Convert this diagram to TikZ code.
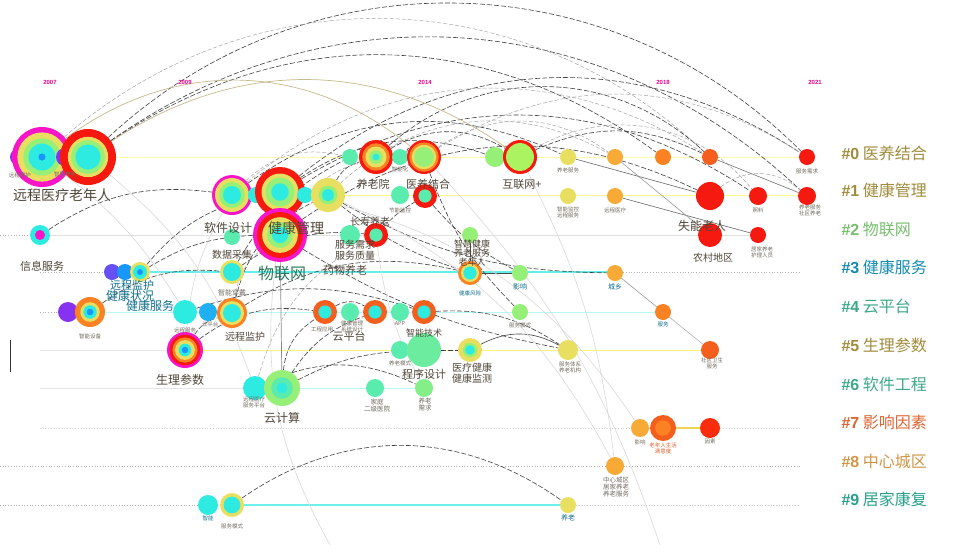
\documentclass[tikz,border=0pt]{standalone}
\usepackage{fontspec}
\setmainfont{Noto Sans CJK SC}
\newfontfamily\latinfont{Liberation Sans}
\pgfdeclarelayer{bgw}
\pgfdeclarelayer{bg}
\pgfsetlayers{bgw,bg,main}
\definecolor{cmag}{RGB}{250,20,200}
\definecolor{cred}{RGB}{245,25,15}
\definecolor{corg}{RGB}{250,130,35}
\definecolor{cyel}{RGB}{232,222,95}
\definecolor{cgrn}{RGB}{150,240,120}
\definecolor{ccyn}{RGB}{45,235,225}
\definecolor{cblu}{RGB}{25,150,250}
\definecolor{cpur}{RGB}{135,50,240}
\definecolor{clor}{RGB}{248,170,55}
\definecolor{cror}{RGB}{245,95,30}
\definecolor{cmint}{RGB}{90,235,175}
\definecolor{lg0}{RGB}{160,140,60}
\definecolor{lg2}{RGB}{120,190,110}
\definecolor{lg3}{RGB}{20,140,175}
\definecolor{lg4}{RGB}{60,170,130}
\definecolor{lg7}{RGB}{220,100,50}
\definecolor{lg8}{RGB}{210,150,70}
\definecolor{lg9}{RGB}{40,160,140}
\definecolor{labc}{RGB}{80,70,55}
\newcommand\rnode[5]{%
  \foreach \cc/\ff in {#5} {\fill[\cc] (#2,#3) circle[radius={#4*\ff*1pt}];}
  \node[circle,inner sep=0pt,minimum size=#4*2pt] (#1) at (#2,#3) {};}
\tikzset{
  arc/.style={draw=black!75,dash pattern=on 5pt off 2pt,line width=0.6pt},
  garc/.style={draw=black!35,dash pattern=on 4pt off 2pt,line width=0.5pt},
  larc/.style={draw=black!15,line width=0.6pt},
  oarc/.style={draw=lg0!60,line width=0.7pt},
  big/.style={text=labc,font=\fontsize{14}{14}\selectfont},
  mid/.style={text=labc,font=\fontsize{10}{10}\selectfont,align=center},
  tiny/.style={text=labc!80,font=\fontsize{5.5}{6}\selectfont,align=center},
  teal/.style={text=lg3!80!black},
  yr/.style={text=magenta,font=\latinfont\bfseries\fontsize{6}{6}\selectfont},
  leg/.style={anchor=west,font=\fontsize{16}{16}\selectfont},
  rowl/.style={line width=1pt},
  dotl/.style={draw=black!30,dotted,line width=0.7pt}
}
\begin{document}
\begin{tikzpicture}[x=1pt,y=-1pt]
\path[use as bounding box] (0,0) rectangle (964,555);
\begin{pgfonlayer}{bgw}
\fill[white] (0,0) rectangle (964,555);
\end{pgfonlayer}
% year labels
\node[yr] (y1) at (50,82) {2007};
\node[yr] (y2) at (185,82) {2009};
\node[yr] (y3) at (425,82) {2014};
\node[yr] (y4) at (663,82) {2018};
\node[yr] (y5) at (815,82) {2021};
% ---------------- nodes ----------------
% row 0
\rnode{n0a}{18}{157}{8}{cpur/1}
\rnode{n0b}{42}{157}{30}{cmag/1,cyel/0.82,cgrn/0.62,ccyn/0.45,cblu/0.12}
\rnode{n0c}{65}{157}{9}{cpur/1}
\rnode{n0d}{88}{157}{28}{cred/1,cyel/0.72,cgrn/0.6,ccyn/0.45}
\rnode{n0e}{350}{157}{8}{cmint/1}
\rnode{n0f}{376}{157}{17}{cred/1,corg/0.8,cyel/0.62,cgrn/0.4,ccyn/0.2}
\rnode{n0g}{400}{157}{8}{cmint/1}
\rnode{n0h}{424}{157}{17}{cred/1,corg/0.86,cyel/0.72,cgrn/0.58}
\rnode{n0i}{495}{157}{10}{cgrn/1}
\rnode{n0j}{520}{157}{17}{cred/1,cgrn!80!yellow/0.82}
\rnode{n0k}{568}{157}{8}{cyel/1}
\rnode{n0l}{615}{157}{8}{clor/1}
\rnode{n0m}{663}{157}{8}{corg/1}
\rnode{n0n}{710}{157}{8}{cror/1}
\rnode{n0o}{807}{157}{8}{cred/1}
% row 1
\rnode{n1a}{232}{195}{20}{cmag/1,cyel/0.85,cgrn/0.65,ccyn/0.45}
\rnode{n1b}{256}{195}{8}{ccyn/1}
\rnode{n1c}{280}{192}{25}{cred/1,cyel/0.74,cgrn/0.58,ccyn/0.35}
\rnode{n1d}{305}{195}{8}{ccyn/1}
\rnode{n1e}{328}{195}{17}{cyel/1,cgrn/0.55,ccyn/0.35}
\rnode{n1f}{400}{195}{9}{cmint/1}
\rnode{n1g}{425}{196}{12}{cred/1,cmint/0.55}
\rnode{n1h}{568}{196}{8}{cyel/1}
\rnode{n1i}{615}{196}{8}{clor/1}
\rnode{n1j}{710}{196}{14}{cred/1}
\rnode{n1k}{758}{196}{9}{cred/1}
\rnode{n1l}{807}{196}{9}{cred/1}
% row 2
\rnode{n2a}{40}{235}{10}{ccyn/1,cmag/0.5}
\rnode{n2b}{232}{237}{8}{cmint/1}
\rnode{n2c}{280}{235}{27}{cmag/1,cred/0.85,cyel/0.66,cgrn/0.48,ccyn/0.3}
\rnode{n2d}{350}{235}{10}{cmint/1}
\rnode{n2e}{376}{235}{12}{cred/1,cmint/0.55}
\rnode{n2f}{470}{235}{8}{cgrn/1}
\rnode{n2g}{710}{235}{12}{cred/1}
\rnode{n2h}{758}{235}{8}{cred/1}
% row 3
\rnode{n3a}{112}{272}{8}{cpur!70!cblu/1}
\rnode{n3b}{125}{272}{8}{cblu/1}
\rnode{n3c}{140}{272}{10}{cyel/1,ccyn/0.7,cblu/0.3}
\rnode{n3d}{232}{272}{12}{cyel/1,ccyn/0.75}
\rnode{n3e}{470}{273}{12}{corg/1,cyel/0.75,ccyn/0.55}
\rnode{n3f}{520}{273}{8}{cgrn/1}
\rnode{n3g}{615}{273}{8}{clor/1}
% row 4
\rnode{n4a}{68}{312}{10}{cpur/1}
\rnode{n4b}{90}{312}{15}{corg/1,cyel/0.65,ccyn/0.45,cblu/0.22}
\rnode{n4c}{185}{312}{12}{ccyn/1}
\rnode{n4d}{208}{312}{9}{cblu!70!ccyn/1}
\rnode{n4e}{232}{313}{15}{corg/1,cyel/0.8,ccyn/0.6}
\rnode{n4f}{325}{312}{12}{cror/1,ccyn/0.55}
\rnode{n4g}{350}{312}{9}{cmint/1}
\rnode{n4h}{375}{312}{12}{cror/1,ccyn/0.55}
\rnode{n4i}{400}{312}{9}{cmint/1}
\rnode{n4j}{424}{312}{12}{cror/1,ccyn/0.55}
\rnode{n4k}{520}{312}{8}{cgrn/1}
\rnode{n4l}{663}{312}{8}{corg/1}
% row 5
\rnode{n5a}{185}{350}{18}{cmag/1,cred/0.85,corg/0.7,cyel/0.55,ccyn/0.35,cblu/0.18}
\rnode{n5b}{400}{350}{9}{cmint/1}
\rnode{n5c}{424}{350}{17}{cmint!70!cgrn/1}
\rnode{n5d}{470}{350}{12}{cyel/1,cgrn/0.6,ccyn/0.4}
\rnode{n5e}{568}{350}{10}{cyel/1}
\rnode{n5f}{710}{350}{9}{cror/1}
% row 6
\rnode{n6a}{255}{388}{12}{ccyn/1}
\rnode{n6b}{282}{388}{18}{cgrn/1,cmint/0.6,ccyn/0.3}
\rnode{n6c}{375}{388}{9}{cmint/1}
\rnode{n6d}{424}{388}{9}{cgrn!70!cmint/1}
% row 7
\rnode{n7a}{640}{428}{9}{clor/1}
\rnode{n7b}{663}{428}{13}{cror/1,corg/0.6}
\rnode{n7c}{710}{428}{10}{cred!80!orange/1}
% row 8
\rnode{n8a}{615}{466}{9}{clor/1}
% row 9
\rnode{n9a}{208}{505}{10}{ccyn/1}
\rnode{n9b}{232}{505}{12}{cyel/1,ccyn/0.7}
\rnode{n9c}{568}{505}{8}{cyel/1}
% ---------------- row lines and connectors (behind nodes) ----------------
\begin{pgfonlayer}{bg}
\draw[rowl,yellow!35] (18,157) -- (807,157);
\draw[rowl,yellow!45] (232,195) -- (807,195);
\draw[dotl] (0,235) -- (40,235);
\draw[rowl,black!12] (40,235) -- (758,235);
\draw[dotl] (40,272) -- (112,272);
\draw[line width=1.8pt,ccyn!75] (140,272) -- (615,272);
\draw[dotl] (615,272) -- (800,272);
\draw[dotl] (40,312) -- (68,312);
\draw[rowl,ccyn!35] (68,312) -- (663,312);
\draw[rowl,black!10] (40,350) -- (185,350);
\draw[rowl,yellow!55] (185,350) -- (710,350);
\draw[rowl,black!10] (40,388) -- (255,388);
\draw[rowl,ccyn!35] (255,388) -- (424,388);
\draw[dotl,black!18] (40,428) -- (800,428);
\draw[dotl] (0,466) -- (800,466);
\draw[dotl] (0,505) -- (208,505);
\draw[line width=1.3pt,ccyn!70] (232,505) -- (568,505);
\draw[dotl,black!20] (568,505) -- (800,505);
\draw[black!80,line width=0.8pt] (10,340) -- (10,372);
% long top arcs
\draw[arc] (n0d) to[bend left=44] (n0o);
\draw[arc] (n0d) to[bend left=39] (n1l);
\draw[garc] (n0b) to[bend left=42] (n0n);
\draw[arc] (n0d) to[bend left=35] (n0m);
\draw[arc] (n1c) to[bend left=36] (n0o);
\draw[garc] (n1a) to[bend left=36] (n0n);
\draw[arc] (n1c) to[bend left=32] (n1k);
\draw[arc] (n2c) to[bend left=30] (n1j);
\draw[garc] (n1e) to[bend left=36] (n0l);
\draw[arc] (n0f) to[bend left=42] (n0n);
\draw[garc] (n0h) to[bend left=32] (n0o);
\draw[garc] (n0j) to[bend left=40] (n1k);
\draw[oarc] (n0d) to[bend left=34] (n0j);
\draw[oarc] (n0b) to[bend left=38] (n0h);
\draw[arc] (n1a) to[bend left=30] (n0k);
\draw[arc] (n1c) to[bend left=26] (n0i);
\draw[garc] (n2c) to[bend left=26] (n0g);
\draw[arc] (n1e) to[bend left=22] (n0f);
\draw[garc] (n1a) to[bend left=28] (n0e);
\draw[arc] (n0f) to[bend left=30] (n0j);
\draw[garc] (n0h) to[bend left=35] (n0l);
\draw[arc] (n0j) to[bend left=25] (n0n);
% mid arcs
\draw[arc] (n2a) to[bend left=20] (n1a);
\draw[arc] (n3c) to[bend left=18] (n1c);
\draw[arc] (n3c) to[bend left=14] (n2c);
\draw[arc] (n4b) to[bend left=20] (n3d);
\draw[garc] (n4e) to[bend left=20] (n2c);
\draw[arc] (n4e) to[bend left=25] (n1e);
\draw[arc] (n5a) to[bend left=20] (n4e);
\draw[arc] (n6b) to[bend left=25] (n4f);
\draw[arc] (n6b) to[bend left=18] (n4h);
\draw[garc] (n6a) to[bend left=22] (n2e);
\draw[arc] (n6b) to[bend left=12] (n5c);
\draw[arc] (n5c) -- (n5d);
\draw[arc,solid] (n5d) to[bend left=28] (n5e);
\draw[arc] (n4j) to[bend left=18] (n5e);
\draw[arc] (n3d) to[bend left=16] (n0e);
\draw[arc] (n3d) to[bend left=20] (n2e);
\draw[arc] (n4e) to[bend left=22] (n3e);
\draw[arc] (n5a) to[bend left=22] (n4f);
\draw[arc] (n6a) to[bend left=25] (n6d);
\draw[arc] (n4c) to[bend left=18] (n4j);
\draw[arc] (n1e) to[bend right=10] (n3e);
\draw[arc] (n2e) to[bend left=8] (n1g);
\draw[arc] (n1g) to[bend right=10] (n3f);
\draw[arc,solid,black!70] (n2f) -- (n3e);
\draw[arc,solid,black!70] (n3e) -- (n3f);
\draw[arc] (n0h) to[bend right=12] (n4k);
\draw[arc] (n1e) to[bend right=14] (n3g);
\draw[arc] (n2c) to[bend right=10] (n5e);
\draw[arc] (n4f) to[bend left=30] (n4h);
\draw[arc] (n0g) to[bend left=35] (n0h);
% right side
\draw[arc,solid,black!60] (n0k) -- (n1j);
\draw[arc,solid,black!60] (n1i) -- (n2h);
\draw[arc,solid,black!55] (n0n) -- (n1l);
\draw[garc] (n1j) to[bend left=40] (n1l);
\draw[black!40,line width=0.6pt] (n3g) -- (n4l);
\draw[black!30,line width=0.6pt] (n4l) -- (n5f);
\draw[black!40,line width=0.6pt] (n0l) -- (n2g);
\draw[cyel!90!orange,line width=1.6pt] (n7b) -- (n7c);
\draw[black!25,line width=0.6pt] (n7a) -- (n7b);
\draw[arc] (n9b) to[bend left=35] (n9c);
% vertical and light crossing lines
\draw[black!45,line width=0.7pt] (n2c) -- (n6b);
\draw[larc] (n1e) to[bend left=18] (n8a);
\draw[larc] (n1c) to[bend left=22] (n7a);
\draw[larc] (n0h) to[bend left=12] (660,545);
\draw[larc] (n2c) to[bend right=18] (330,545);
\draw[larc] (n0d) to[bend left=15] (n6a);
\draw[larc] (n0b) to[bend left=10] (n4c);
\draw[larc] (n1a) to[bend right=12] (n5a);
\draw[larc] (n0j) to[bend left=10] (n8a);
\draw[larc] (n2e) to[bend right=10] (n6d);
\end{pgfonlayer}
% ---------------- labels ----------------
\node[big] (t1) at (62,195) {远程医疗老年人};
\node[tiny] (t2) at (20,175) {远程照护};
\node[tiny] (t3) at (65,174) {智慧养老};
\node[mid,font=\fontsize{11}{11}\selectfont] (t4) at (373,184) {养老院};
\node[mid,font=\fontsize{11}{11}\selectfont] (t5) at (428,184) {医养结合};
\node[mid,font=\fontsize{11}{11}\selectfont] (t6) at (522,184) {互联网+};
\node[tiny] (t7) at (400,169) {智能化};
\node[tiny] (t8) at (568,170) {养老服务};
\node[tiny] (t9) at (807,171) {服务需求};
\node[mid,font=\fontsize{12}{12}\selectfont] (t10) at (228,228) {软件设计};
\node[big] (t11) at (296,228) {健康管理};
\node[tiny] (t12) at (400,210) {节能监控};
\node[mid] (t13) at (370,222) {长寿养老};
\node[tiny] (t14) at (568,212) {智能监控\\远程服务};
\node[tiny] (t15) at (615,210) {远程医疗};
\node[mid,font=\fontsize{12}{12}\selectfont] (t16) at (702,226) {失能老人};
\node[tiny] (t17) at (758,210) {照料};
\node[tiny] (t18) at (810,210) {养老服务\\社区养老};
\node[mid,font=\fontsize{11}{11}\selectfont] (t19) at (42,266) {信息服务};
\node[mid] (t20) at (232,255) {数据采集};
\node[mid,font=\fontsize{10}{11}\selectfont] (t21) at (355,250) {服务需求\\服务质量};
\node[mid,font=\fontsize{11}{11}\selectfont] (t22) at (345,270) {药物养老};
\node[mid,font=\fontsize{9}{9}\selectfont] (t23) at (472,253) {智慧健康\\养老服务\\老年人};
\node[mid,font=\fontsize{10}{10}\selectfont] (t24) at (713,258) {农村地区};
\node[tiny] (t25) at (762,252) {居家养老\\护理人员};
\node[mid,teal,font=\fontsize{11}{11}\selectfont] (t26) at (132,285) {远程监护};
\node[mid,teal,font=\fontsize{12}{12}\selectfont] (t27) at (130,296) {健康状况};
\node[mid,teal,font=\fontsize{12}{12}\selectfont] (t28) at (150,306) {健康服务};
\node[big,text=lg4!70!black,font=\fontsize{16}{16}\selectfont] (t29) at (282,273) {物联网};
\node[tiny,teal] (t30) at (470,293) {健康风险};
\node[tiny,teal,font=\fontsize{7}{7}\selectfont] (t31) at (520,287) {影响};
\node[tiny,teal,font=\fontsize{7}{7}\selectfont] (t32) at (615,287) {城乡};
\node[tiny] (t33) at (90,336) {智能设备};
\node[tiny] (t34) at (185,330) {远程服务};
\node[tiny] (t35) at (210,324) {云平台};
\node[tiny,font=\fontsize{7}{7}\selectfont] (t36) at (232,293) {智能穿戴};
\node[mid] (t37) at (245,337) {远程监护};
\node[tiny] (t38) at (322,329) {工程应用};
\node[tiny] (t39) at (352,326) {健康管理\\系统设计};
\node[mid,font=\fontsize{11}{11}\selectfont] (t40) at (349,336) {云平台};
\node[tiny] (t41) at (400,323) {APP};
\node[mid,font=\fontsize{9}{9}\selectfont] (t42) at (424,333) {智能技术};
\node[tiny] (t43) at (520,325) {服务模式};
\node[tiny,teal] (t44) at (663,324) {服务};
\node[mid,font=\fontsize{12}{12}\selectfont] (t45) at (180,380) {生理参数};
\node[tiny] (t46) at (400,363) {养老模式};
\node[mid,font=\fontsize{11}{11}\selectfont] (t47) at (424,374) {程序设计};
\node[mid,font=\fontsize{10}{11}\selectfont] (t48) at (472,373) {医疗健康\\健康监测};
\node[tiny] (t49) at (570,367) {服务体系\\养老机构};
\node[tiny] (t50) at (712,363) {社区卫生\\服务};
\node[tiny] (t51) at (254,402) {远程医疗\\服务平台};
\node[mid,font=\fontsize{12}{12}\selectfont] (t52) at (282,418) {云计算};
\node[tiny,font=\fontsize{6.5}{7}\selectfont] (t53) at (377,405) {家庭\\二级医院};
\node[tiny,font=\fontsize{6.5}{7}\selectfont] (t54) at (425,405) {养老\\需求};
\node[tiny] (t55) at (640,442) {影响};
\node[tiny,text=lg7] (t56) at (663,448) {老年人生活\\满意度};
\node[tiny] (t57) at (710,441) {因素};
\node[tiny,font=\fontsize{6.5}{7}\selectfont] (t58) at (616,487) {中心城区\\居家养老\\养老服务};
\node[tiny,teal] (t59) at (208,518) {智能};
\node[tiny] (t60) at (232,526) {服务模式};
\node[tiny,teal,font=\fontsize{7}{7}\selectfont] (t61) at (568,518) {养老};
% legend
\node[leg,text=lg0] (g0) at (838,153) {{\latinfont\bfseries \#0} 医养结合};
\node[leg,text=lg0] (g1) at (838,190) {{\latinfont\bfseries \#1} 健康管理};
\node[leg,text=lg2] (g2) at (838,229) {{\latinfont\bfseries \#2} 物联网};
\node[leg,text=lg3] (g3) at (838,267) {{\latinfont\bfseries \#3} 健康服务};
\node[leg,text=lg4] (g4) at (838,306) {{\latinfont\bfseries \#4} 云平台};
\node[leg,text=lg0] (g5) at (838,345) {{\latinfont\bfseries \#5} 生理参数};
\node[leg,text=lg4] (g6) at (838,384) {{\latinfont\bfseries \#6} 软件工程};
\node[leg,text=lg7] (g7) at (838,422) {{\latinfont\bfseries \#7} 影响因素};
\node[leg,text=lg8] (g8) at (838,461) {{\latinfont\bfseries \#8} 中心城区};
\node[leg,text=lg9] (g9) at (838,499) {{\latinfont\bfseries \#9} 居家康复};
\end{tikzpicture}
\end{document}
